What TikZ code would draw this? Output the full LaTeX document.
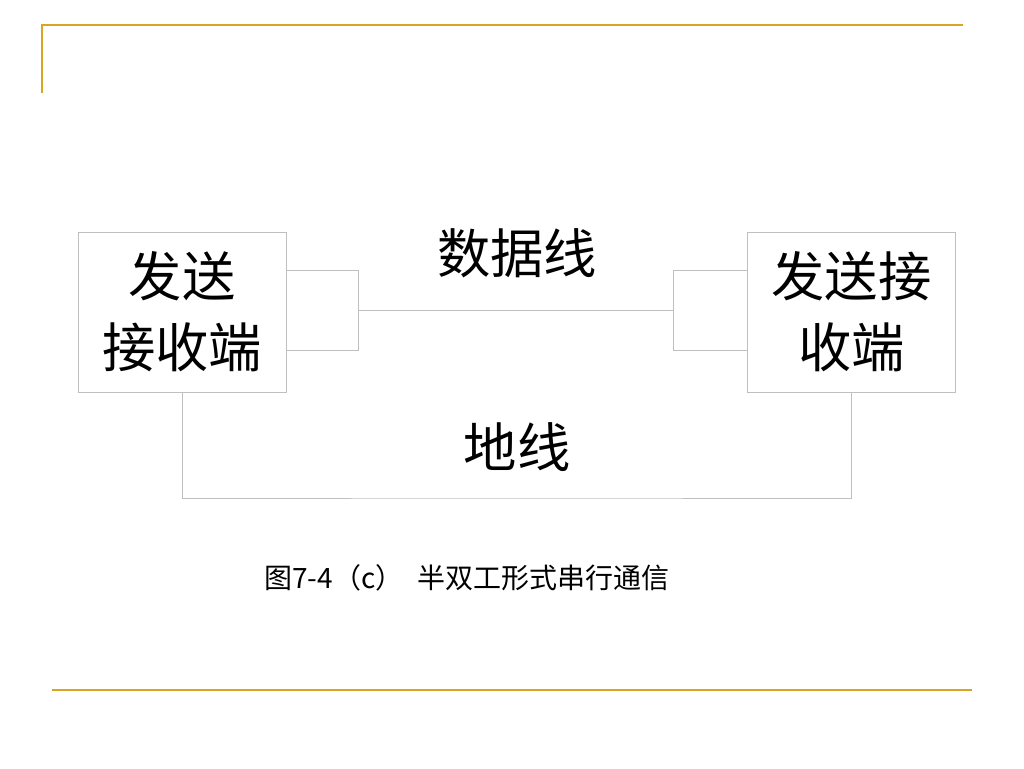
\documentclass[tikz,border=0pt]{standalone}
\usepackage{fontspec}
\setmainfont{Noto Sans CJK SC}
\usepackage{tikz}
\usetikzlibrary{positioning}

\definecolor{frame}{RGB}{218,165,32}
\definecolor{wire}{RGB}{191,191,191}

\begin{document}
\begin{tikzpicture}[x=0.75pt,y=-0.75pt,
	box/.style={draw=wire,line width=0.75pt,minimum width=156pt,minimum height=120pt,align=center,inner sep=0pt,font=\fontsize{40pt}{53pt}\selectfont},
	label/.style={font=\fontsize{40pt}{48pt}\selectfont,inner sep=0pt}]
	\useasboundingbox (0,0) rectangle (1024,768);

	% slide frame
	\draw [frame,line width=1.5pt] (42,93) -- (42,25) -- (963,25);
	\draw [frame,line width=1.5pt] (52,690) -- (972,690);

	% boxes
	\node [box] (lbox) at (182,312) {发送\\接收端};
	\node [box] (rbox) at (851.5,312) {发送接\\收端};

	% labels
	\node [label] (data) at (517,253) {数据线};
	\node [label] (gndl) at (517,447) {地线};
	\node [font=\fontsize{21pt}{24pt}\selectfont,inner sep=0pt,anchor=west] (cap) at (264,578) {图7-4（c）\hspace{0.5em}半双工形式串行通信};

	% nodes
	\coordinate (lup) at (358,270);
	\coordinate (ldn) at (358,350);
	\coordinate (lmid) at (358,310);
	\coordinate (rup) at (673,270);
	\coordinate (rdn) at (673,350);
	\coordinate (rmid) at (673,310);
	\coordinate (gnd) at (517,498);
	\begin{scope}[wire,line width=0.75pt]
	\draw (lbox.east |- lup) -- (lup) -- (ldn) -- (lbox.east |- ldn);
	\draw (rbox.west |- rup) -- (rup) -- (rdn) -- (rbox.west |- rdn);
	\draw (lmid) -- (rmid);
	\draw (lbox.south) |- (gnd) -| (rbox.south);
	\end{scope}
\end{tikzpicture}
\end{document}
